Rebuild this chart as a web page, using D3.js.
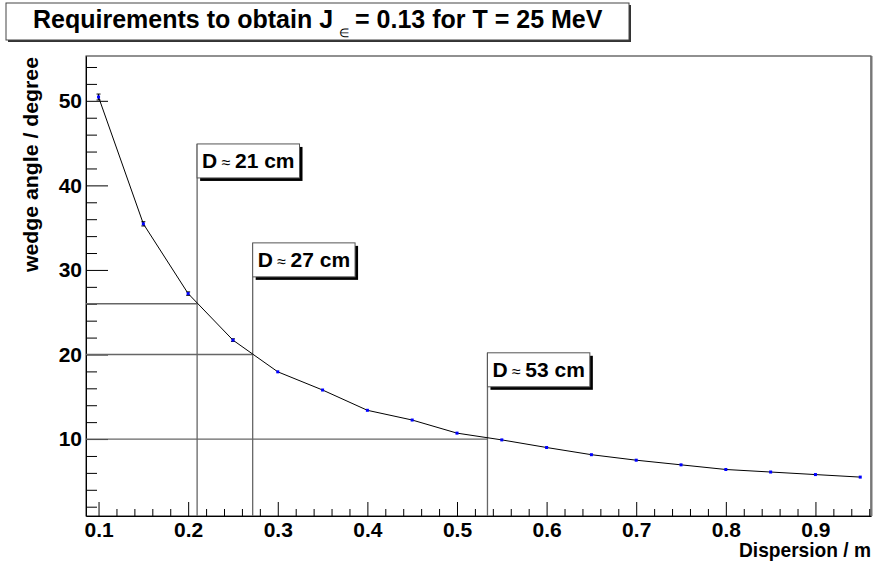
<!DOCTYPE html>
<meta charset="utf-8">
<style>
  body { margin: 0; background: #fff; }
  svg { display: block; font-family: "Liberation Sans", Arial, sans-serif; }
  .axis text { font-size: 21px; font-weight: bold; fill: #000; }
  .axis line, .axis path { stroke: #000; }
  .title-axis { font-size: 21px; font-weight: bold; }
  .guide { stroke: #666; stroke-width: 1.3; fill: none; }
  .curve { stroke: #000; stroke-width: 1; fill: none; }
  .tag text { font-size: 21px; font-weight: bold; }
</style>
<body>
<svg width="875" height="566"></svg>
<script src="https://d3js.org/d3.v7.min.js"></script>
<script>

// dispersion (m) vs wedge angle (degree)
var dispersion = [0.10, 0.15, 0.20, 0.25, 0.30, 0.35, 0.40, 0.45, 0.50,
                  0.55, 0.60, 0.65, 0.70, 0.75, 0.80, 0.85, 0.90, 0.95];
var wedgeAngle = [50.45, 35.45, 27.2, 21.7, 17.95, 15.8, 13.4, 12.25, 10.7,
                  9.9, 9.0, 8.15, 7.5, 6.95, 6.4, 6.1, 5.8, 5.5];
var angleErr = [0.35, 0.25, 0.2, 0.15, 0.1, 0.08, 0.07, 0.06, 0.05,
                0.05, 0.05, 0.04, 0.04, 0.04, 0.03, 0.03, 0.03, 0.03];

// required angles and the dispersion where the curve reaches them
var reqDispersion = [0.21, 0.272, 0.534];
var reqAngle = [26, 20, 10];
var reqLabel = ["21 cm", "27 cm", "53 cm"];
var reqLabelTop = [44.9, 33.2, 20.2];

var xMajor = [0.1, 0.2, 0.3, 0.4, 0.5, 0.6, 0.7, 0.8, 0.9];
var yMajor = [10, 20, 30, 40, 50];

var svg = d3.select("svg");
var padL = 86, padR = 871, padT = 56, padB = 516;

var x = d3.scaleLinear().domain([0.086, 0.962]).range([padL, padR]);
var y = d3.scaleLinear().domain([0.9, 55.3]).range([padB, padT]);

// frame
svg.append("rect")
    .attr("x", padL).attr("y", padT)
    .attr("width", padR - padL).attr("height", padB - padT)
    .attr("fill", "none").attr("stroke", "#222");
svg.append("line")
    .attr("x1", padR + 0.5).attr("x2", padR + 0.5)
    .attr("y1", padT).attr("y2", padB)
    .attr("stroke", "#777").attr("stroke-width", 2);

// minor ticks
var xMinor = d3.range(0.1, 0.97, 0.02).filter(function(v) { return Math.abs(v * 10 - Math.round(v * 10)) > 1e-6; });
var yMinor = d3.range(2, 55.3, 2).filter(function(v) { return v % 10 !== 0; });

svg.append("g").attr("class", "axis")
    .attr("transform", "translate(0," + padB + ")")
    .call(d3.axisBottom(x).tickValues(xMinor).tickSizeInner(-7).tickSizeOuter(0).tickFormat(""))
    .select(".domain").remove();
svg.append("g").attr("class", "axis")
    .attr("transform", "translate(0," + padB + ")")
    .call(d3.axisBottom(x).tickValues(xMajor).tickSizeInner(-14).tickSizeOuter(0)
        .tickPadding(6).tickFormat(d3.format(".1f")));

svg.append("g").attr("class", "axis")
    .attr("transform", "translate(" + padL + ",0)")
    .call(d3.axisLeft(y).tickValues(yMinor).tickSizeInner(-11).tickSizeOuter(0).tickFormat(""))
    .select(".domain").remove();
svg.append("g").attr("class", "axis")
    .attr("transform", "translate(" + padL + ",0)")
    .call(d3.axisLeft(y).tickValues(yMajor).tickSizeInner(-22).tickSizeOuter(0)
        .tickPadding(4).tickFormat(d3.format("d")));

// axis titles
svg.append("text").attr("class", "title-axis")
    .attr("x", padR).attr("y", 557)
    .attr("text-anchor", "end")
    .attr("textLength", 132).attr("lengthAdjust", "spacingAndGlyphs")
    .text("Dispersion / m");
svg.append("text").attr("class", "title-axis")
    .attr("transform", "translate(38," + (padT + 1) + ") rotate(-90)")
    .attr("text-anchor", "end")
    .attr("textLength", 215).attr("lengthAdjust", "spacingAndGlyphs")
    .text("wedge angle / degree");

// guide lines for the requirements
reqDispersion.forEach(function(d, i) {
  svg.append("line").attr("class", "guide")
      .attr("x1", padL).attr("x2", x(d))
      .attr("y1", y(reqAngle[i])).attr("y2", y(reqAngle[i]));
  svg.append("line").attr("class", "guide")
      .attr("x1", x(d)).attr("x2", x(d))
      .attr("y1", padB).attr("y2", y(reqLabelTop[i]));
});

// curve
var pts = dispersion.map(function(d, i) { return [d, wedgeAngle[i], angleErr[i]]; });
svg.append("path").attr("class", "curve")
    .attr("d", d3.line().x(function(d) { return x(d[0]); }).y(function(d) { return y(d[1]); })(pts));

// error bars
var eb = svg.append("g").attr("stroke", "#000").attr("stroke-width", 1);
pts.forEach(function(d) {
  var cx = x(d[0]), y1 = y(d[1] + d[2]), y2 = y(d[1] - d[2]);
  eb.append("line").attr("x1", cx).attr("x2", cx).attr("y1", y1).attr("y2", y2);
  if (d[2] > 0.1) {
    eb.append("line").attr("x1", cx - 2).attr("x2", cx + 2).attr("y1", y1).attr("y2", y1);
    eb.append("line").attr("x1", cx - 2).attr("x2", cx + 2).attr("y1", y2).attr("y2", y2);
  }
});

// markers
svg.append("g").selectAll("rect").data(pts).join("rect")
    .attr("x", function(d) { return x(d[0]) - 1.5; })
    .attr("y", function(d) { return y(d[1]) - 1.5; })
    .attr("width", 3).attr("height", 3)
    .attr("fill", "#0000ff");

// labels "D ≈ .."
reqDispersion.forEach(function(d, i) {
  var g = svg.append("g").attr("class", "tag");
  var bx = x(d), by = y(reqLabelTop[i]);
  var shadow = g.append("rect").attr("fill", "#000");
  var box = g.append("rect").attr("fill", "#fff").attr("stroke", "#555");
  var t = g.append("text").attr("x", bx + 5).attr("y", by + 24);
  t.append("tspan").text("D");
  t.append("tspan").attr("font-size", 16).attr("font-weight", "normal").text(" \u2248 ");
  t.append("tspan").text(reqLabel[i]);
  var w = t.node().getComputedTextLength() + 10;
  box.attr("x", bx).attr("y", by).attr("width", w).attr("height", 34);
  shadow.attr("x", bx + 3).attr("y", by + 3).attr("width", w).attr("height", 34);
});

// title box
var tg = svg.append("g");
tg.append("rect").attr("x", 8).attr("y", 5).attr("width", 623).attr("height", 37).attr("fill", "#333");
tg.append("rect").attr("x", 6).attr("y", 3).attr("width", 623).attr("height", 37)
    .attr("fill", "#fff").attr("stroke", "#444");
var title = tg.append("text").attr("x", 33).attr("y", 28)
    .attr("font-size", 25).attr("font-weight", "bold");
title.append("tspan").text("Requirements to obtain J");
title.append("tspan").attr("font-size", 12).attr("font-weight", "normal").attr("dx", 6).attr("dy", 9).text("\u2208");
title.append("tspan").attr("dx", 6).attr("dy", -9).text("= 0.13 for T = 25 MeV");

</script>
</body>
